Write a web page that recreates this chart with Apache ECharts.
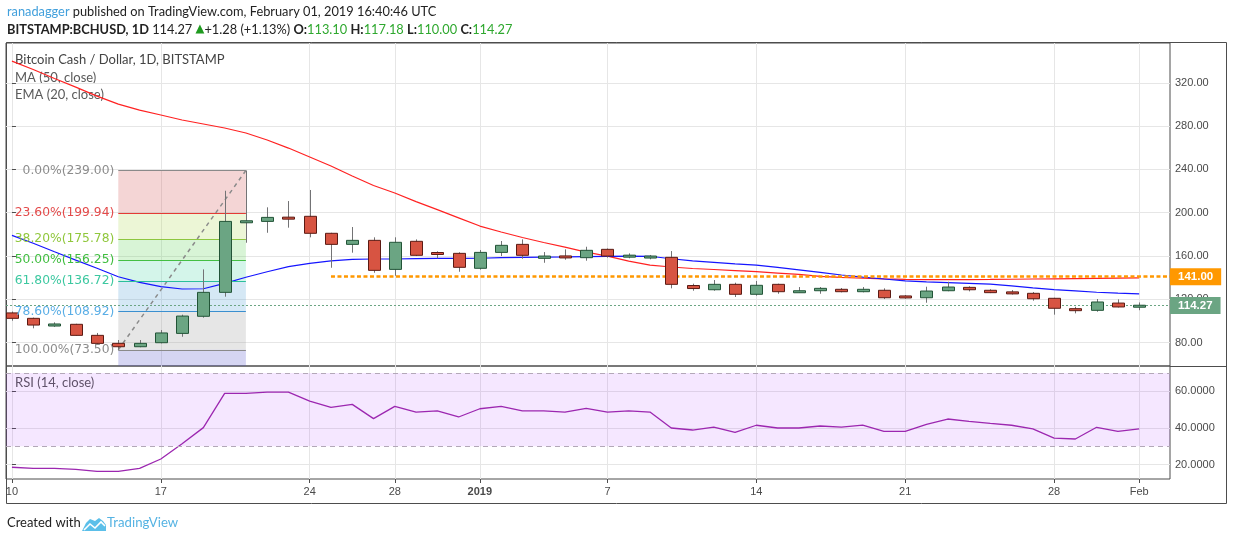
<!DOCTYPE html>
<html><head><meta charset="utf-8">
<script src="https://cdn.jsdelivr.net/npm/echarts@6/dist/echarts.min.js"></script>
<style>html,body{margin:0;padding:0;background:#fff;}#c{width:1234px;height:541px;}</style>
</head><body><div id="c"></div>
<script>
// ---------- data ----------
const dates = ['Dec 10','Dec 11','Dec 12','Dec 13','Dec 14','Dec 15','Dec 16','Dec 17','Dec 18','Dec 19','Dec 20','Dec 21','Dec 22','Dec 23','Dec 24','Dec 25','Dec 26','Dec 27','Dec 28','Dec 29','Dec 30','Dec 31',
'Jan 1','Jan 2','Jan 3','Jan 4','Jan 5','Jan 6','Jan 7','Jan 8','Jan 9','Jan 10','Jan 11','Jan 12','Jan 13','Jan 14','Jan 15','Jan 16','Jan 17','Jan 18','Jan 19','Jan 20','Jan 21','Jan 22','Jan 23','Jan 24','Jan 25','Jan 26','Jan 27','Jan 28','Jan 29','Jan 30','Jan 31','Feb 1'];
const openP  = [107.5,102.5,95.4,97.0,86.8,79.4,76.3,80.0,88.6,104.4,126.5,191.3,192.0,195.5,196.7,181.0,170.8,174.5,147.7,173.6,163.0,162.5,
148.7,163.4,170.8,157.9,159.7,158.5,166.2,159.5,158.8,158.8,132.8,128.9,133.9,124.7,133.9,126.8,128.0,129.3,127.1,128.4,122.8,121.5,128.0,131.1,128.4,126.6,125.6,121.0,111.0,109.9,116.6,113.10];
const highP  = [108.8,103.2,98.8,97.5,89.0,82.5,82.5,91.7,105.9,147.7,220.3,239.0,205.0,210.8,221.0,181.5,186.8,177.3,177.3,175.4,164.4,163.5,
165.6,173.9,175.4,163.7,166.2,168.6,167.0,162.5,161.0,164.6,134.5,137.9,135.4,137.0,134.5,131.4,131.4,130.5,131.4,130.2,124.0,131.7,136.3,132.1,129.3,128.6,126.8,121.5,113.2,120.3,120.0,117.18];
const lowP   = [100.3,93.3,94.6,86.5,78.8,73.5,75.8,79.4,85.5,103.1,122.5,172.3,181.5,186.2,177.3,149.2,163.1,144.6,141.8,160.0,157.9,145.5,
147.5,160.0,157.5,153.8,156.6,155.7,158.5,157.9,157.0,130.2,128.0,128.0,122.2,123.4,125.2,126.0,125.2,126.5,126.5,120.3,120.6,116.9,127.5,127.4,125.8,124.5,118.8,105.9,107.1,108.6,112.5,110.00];
const closeP = [102.5,96.3,97.3,86.8,79.4,76.3,79.4,89.0,104.6,126.5,192.0,192.0,195.7,194.5,181.0,170.8,174.5,146.8,172.7,160.7,161.7,149.6,
163.4,169.9,160.7,160.0,158.7,165.3,160.0,160.3,159.4,133.9,130.0,133.9,124.7,133.0,127.1,127.3,130.2,127.1,129.3,121.5,121.7,127.7,131.4,128.9,126.2,125.4,120.6,111.8,110.0,117.6,113.0,114.27];
const ma50   = [340.0,332.2,323.9,316.0,307.7,300.3,294.8,290.2,285.6,281.9,278.2,273.6,267.1,259.7,251.4,243.1,233.9,225.1,218.2,210.3,202.9,195.3,
187.7,182.2,177.1,172.5,168.2,163.7,160.0,155.4,151.7,149.9,148.5,147.6,146.6,145.6,144.3,143.0,141.3,140.3,139.5,138.9,138.4,138.2,138.2,138.3,138.4,138.6,138.8,139.0,139.2,139.4,139.6,139.8];
const ema20  = [179.1,171.8,164.0,156.3,148.7,140.9,135.7,131.7,129.6,129.8,134.8,140.4,145.5,150.2,153.3,155.5,157.0,157.3,157.3,157.6,157.8,157.8,
158.0,158.5,158.8,159.0,159.2,159.5,159.8,160.0,159.8,157.5,155.5,154.2,152.8,151.7,149.5,147.3,145.0,142.5,140.5,138.8,137.0,136.2,135.5,134.8,134.0,132.5,130.7,129.0,127.8,126.6,125.7,125.0];
const rsi14  = [18.6,18.0,18.0,17.5,16.4,16.4,18.0,23.1,31.4,40.2,58.9,58.9,59.6,59.6,54.7,51.3,52.9,45.1,51.8,48.7,49.3,46.0,
50.5,51.8,49.3,49.3,48.7,50.7,48.7,49.3,48.7,40.0,38.9,40.5,37.6,41.5,40.0,40.0,41.1,40.5,41.6,38.2,38.2,42.0,44.9,43.6,42.5,41.5,39.5,34.5,34.0,40.4,38.2,39.5];

const xTickDates  = ['Dec 10','Dec 17','Dec 24','Dec 28','Jan 1','Jan 7','Jan 14','Jan 21','Jan 28','Feb 1'];
const xTickLabels = ['10','17','24','28','2019','7','14','21','28','Feb'];
const priceTicks = [80,120,160,200,240,280,320];
const rsiTicks = [20,40,60];
const rsiBand = [30,70];

const fibLevels = ['0.00%','23.60%','38.20%','50.00%','61.80%','78.60%','100.00%'];
const fibPrices = [239.00,199.94,175.78,156.25,136.72,108.92,73.50];
const fibSpan = ['Dec 15','Dec 21'];
const supportPrice = 141.00;
const supportStart = 'Dec 25';
const lastPrice = 114.27;

// ---------- styles ----------
const fibLineColors  = ['#8a8a8a','#e53935','#8dc63f','#43bf43','#2bbf9b','#3b8fcf','#8a8a8a'];
const fibLabelColors = ['#8c8c8c','#e34a4a','#90c73c','#3fbd3f','#3cc8a0','#5aaee6','#8c8c8c'];
const fibFillColors  = ['rgba(211,87,87,0.25)','rgba(179,219,91,0.25)','rgba(99,211,91,0.25)','rgba(83,215,171,0.25)','rgba(87,163,215,0.25)','rgba(155,155,155,0.25)','rgba(87,87,203,0.25)'];

const idx = d => dates.indexOf(d);
const X_MIN = -0.28, X_MAX = 54.45;
const P_MIN = 58.5, P_MAX = 356.7;
const R_MIN = 12.2, R_MAX = 73.8;
const tickIdx = xTickDates.map(idx);
const AX = 'Liberation Sans';

const candleData = dates.map((d, i) => [i, openP[i], closeP[i], lowP[i], highP[i]]);

function renderCandle(params, api) {
  const i = api.value(0), o = api.value(1), c = api.value(2), l = api.value(3), h = api.value(4);
  const po = api.coord([i, o]), pc = api.coord([i, c]), pl = api.coord([i, l]), ph = api.coord([i, h]);
  const cx = Math.round(po[0]) + 0.5;
  const up = c >= o;
  let top = Math.min(po[1], pc[1]), bot = Math.max(po[1], pc[1]);
  if (bot - top < 2) { const m = (top + bot) / 2; top = m - 1; bot = m + 1; }
  return {type: 'group', children: [
    {type: 'line', shape: {x1: cx, y1: ph[1], x2: cx, y2: pl[1]}, style: {stroke: '#737375', lineWidth: 1}},
    {type: 'rect', shape: {x: cx - 6, y: top, width: 12, height: bot - top},
     style: {fill: up ? '#6ba583' : '#d75442', stroke: up ? '#225437' : '#5b1a13', lineWidth: 1}}
  ]};
}

const f0 = idx(fibSpan[0]), f1 = idx(fibSpan[1]);
const fibAreas = fibPrices.map((p, k) => {
  const next = k < fibPrices.length - 1 ? fibPrices[k + 1] : P_MIN;
  return [{xAxis: f0, yAxis: p, itemStyle: {color: fibFillColors[k]}}, {xAxis: f1, yAxis: next}];
});
const fibLines = fibPrices.map((p, k) => [
  {coord: [f0, p], lineStyle: {color: fibLineColors[k], width: 1, type: 'solid'},
   label: {show: true, position: 'start', distance: 4, formatter: fibLevels[k] + '(' + p.toFixed(2) + ')',
           color: fibLabelColors[k], fontSize: 12.3, fontFamily: 'DejaVu Sans'}},
  {coord: [f1, p]}
]);

const gridLineStyle = {color: '#e6e6e6', width: 1};

const option = {
  animation: false,
  backgroundColor: '#ffffff',
  grid: [
    {left: 6, right: 64, top: 43, height: 323, show: true, borderColor: '#4d4d4d', borderWidth: 1},
    {left: 6, right: 64, top: 366, height: 113, show: true, borderColor: '#4d4d4d', borderWidth: 1}
  ],
  xAxis: [
    {type: 'value', gridIndex: 0, min: X_MIN, max: X_MAX,
     axisLine: {show: false}, axisTick: {show: false, customValues: tickIdx},
     axisLabel: {show: false, customValues: tickIdx},
     splitLine: {show: true, lineStyle: gridLineStyle}},
    {type: 'value', gridIndex: 1, min: X_MIN, max: X_MAX,
     axisLine: {show: false},
     axisTick: {show: true, length: 4, customValues: tickIdx, lineStyle: {color: '#4d4d4d'}},
     axisLabel: {show: true, customValues: tickIdx, margin: 7, color: '#4a4a4a', fontSize: 11, fontFamily: AX,
       formatter: v => { const k = tickIdx.indexOf(Math.round(v)); const t = k >= 0 ? xTickLabels[k] : ''; return t === '2019' ? '{b|2019}' : t; },
       rich: {b: {fontWeight: 'bold', color: '#4a4a4a', fontSize: 11, fontFamily: AX}}},
     splitLine: {show: true, lineStyle: gridLineStyle}}
  ],
  yAxis: [
    {type: 'value', gridIndex: 0, position: 'right', min: P_MIN, max: P_MAX,
     axisLine: {show: false},
     axisTick: {show: true, length: 4, customValues: priceTicks, lineStyle: {color: '#4d4d4d'}},
     axisLabel: {customValues: priceTicks, margin: 5, color: '#4a4a4a', fontSize: 11, fontFamily: AX, formatter: v => v.toFixed(2)},
     splitLine: {show: true, lineStyle: gridLineStyle}},
    {type: 'value', gridIndex: 1, position: 'right', min: R_MIN, max: R_MAX,
     axisLine: {show: false},
     axisTick: {show: true, length: 4, customValues: rsiTicks, lineStyle: {color: '#4d4d4d'}},
     axisLabel: {customValues: rsiTicks, margin: 5, color: '#4a4a4a', fontSize: 11, fontFamily: AX, formatter: v => v.toFixed(4)},
     splitLine: {show: true, lineStyle: gridLineStyle}}
  ],
  series: [
    { // fib retracement (trend line + zones + levels)
      type: 'line', xAxisIndex: 0, yAxisIndex: 0, z: 1,
      data: [[f0, fibPrices[fibPrices.length - 1]], [f1, fibPrices[0]]],
      symbol: 'none', silent: true,
      lineStyle: {color: '#8a8a8a', width: 1.5, type: [4, 4]},
      markArea: {silent: true, data: fibAreas},
      markLine: {silent: true, symbol: 'none', animation: false, data: fibLines}
    },
    {
      name: 'MA (50, close)', type: 'line', xAxisIndex: 0, yAxisIndex: 0, z: 2,
      data: ma50.map((v, i) => [i, v]), symbol: 'none', silent: true,
      lineStyle: {color: '#ff2222', width: 1.2},
      markLine: {silent: true, symbol: 'none', data: [
        [{coord: [idx(supportStart), supportPrice], lineStyle: {color: '#ff9800', width: 2.5, type: [4, 2.5]},
          label: {show: true, position: 'end', distance: 0, formatter: supportPrice.toFixed(2), color: '#fff',
                  backgroundColor: '#ff9800', padding: [3, 8, 2, 8], fontSize: 11.5, fontWeight: 'bold', fontFamily: AX}},
         {coord: [X_MAX, supportPrice]}],
        [{coord: [X_MIN, lastPrice], lineStyle: {color: '#6ba583', width: 1, type: [2, 2]},
          label: {show: true, position: 'end', distance: 0, formatter: lastPrice.toFixed(2), color: '#fff',
                  backgroundColor: '#6ba583', padding: [3, 8, 2, 8], fontSize: 11.5, fontWeight: 'bold', fontFamily: AX}},
         {coord: [X_MAX, lastPrice]}]
      ]}
    },
    {
      name: 'EMA (20, close)', type: 'line', xAxisIndex: 0, yAxisIndex: 0, z: 2,
      data: ema20.map((v, i) => [i, v]), symbol: 'none', silent: true,
      lineStyle: {color: '#1515ff', width: 1.2}
    },
    {
      name: 'BCHUSD', type: 'custom', xAxisIndex: 0, yAxisIndex: 0, z: 5, clip: true,
      renderItem: renderCandle, data: candleData, encode: {x: 0, y: [1, 2, 3, 4]}
    },
    {
      name: 'RSI (14, close)', type: 'line', xAxisIndex: 1, yAxisIndex: 1, z: 3,
      data: rsi14.map((v, i) => [i, v]), symbol: 'none', silent: true,
      lineStyle: {color: '#9c27b0', width: 1.3},
      markArea: {silent: true, itemStyle: {color: 'rgba(153,21,255,0.1)'},
        data: [[{xAxis: X_MIN, yAxis: rsiBand[0]}, {xAxis: X_MAX, yAxis: rsiBand[1]}]]},
      markLine: {silent: true, symbol: 'none', label: {show: false},
        lineStyle: {color: '#b3a8b8', width: 1, type: [5, 4]},
        data: rsiBand.map(v => ({yAxis: v}))}
    }
  ],
  graphic: [
    {type: 'rect', silent: true, shape: {x: 6.5, y: 42.5, width: 1220, height: 461}, style: {fill: 'none', stroke: '#4d4d4d', lineWidth: 1}},
    {type: 'line', silent: true, shape: {x1: 1170, y1: 366.5, x2: 1227, y2: 366.5}, style: {stroke: '#4d4d4d', lineWidth: 1}},
    {type: 'text', left: 7, top: 5, silent: true, style: {
      text: '{u|ranadagger} published on TradingView.com, February 01, 2019 16:40:46 UTC',
      fill: '#222', fontSize: 12.8, fontFamily: 'Lato',
      rich: {u: {fill: '#42a0dc', fontSize: 12.8, fontFamily: 'Lato'}}}},
    {type: 'text', left: 7, top: 23, silent: true, style: {
      text: '{b|BITSTAMP:BCHUSD, 1D} 114.27 {t|▲}+1.28 (+1.13%) {b|O:}{g|113.10} {b|H:}{g|117.18} {b|L:}{g|110.00} {b|C:}{g|114.27}',
      fill: '#222', fontSize: 12.8, fontFamily: 'Lato',
      rich: {
        b: {fontWeight: 'bold', fill: '#222', fontSize: 12.8, fontFamily: 'Lato'},
        g: {fill: '#2ea82e', fontSize: 12.8, fontFamily: 'Lato'},
        t: {fill: '#1f9a1f', fontSize: 11.5, fontFamily: 'DejaVu Sans'}
      }}},
    {type: 'text', left: 15, top: 53, silent: true, style: {text: 'Bitcoin Cash / Dollar, 1D, BITSTAMP', fill: '#444', fontSize: 13, fontFamily: 'Lato'}},
    {type: 'text', left: 15, top: 71, silent: true, style: {text: 'MA (50, close)', fill: '#5a5a5a', fontSize: 13, fontFamily: 'Lato'}},
    {type: 'text', left: 15, top: 88, silent: true, style: {text: 'EMA (20, close)', fill: '#5a5a5a', fontSize: 13, fontFamily: 'Lato'}},
    {type: 'text', left: 15, top: 376, silent: true, style: {text: 'RSI (14, close)', fill: '#5a5a5a', fontSize: 13, fontFamily: 'Lato'}},
    {type: 'text', left: 7, top: 516, silent: true, style: {text: 'Created with', fill: '#222', fontSize: 13, fontFamily: 'Lato'}},
    {type: 'polygon', silent: true, shape: {points: [[82,531],[86,523],[90,519],[95,521],[99,518],[103,521],[106,525],[106,531]]}, style: {fill: '#5bbfe9'}},
    {type: 'polyline', silent: true, shape: {points: [[84,530],[90,524],[95,528],[101,522],[105,526]]}, style: {stroke: '#ffffff', lineWidth: 1.6, fill: 'none'}},
    {type: 'text', left: 107, top: 516, silent: true, style: {text: 'TradingView', fill: '#55b3e3', fontSize: 13.2, fontFamily: 'Lato'}}
  ]
};

const chart = echarts.init(document.getElementById('c'), null, {renderer: 'canvas'});
chart.setOption(option);
</script></body></html>
